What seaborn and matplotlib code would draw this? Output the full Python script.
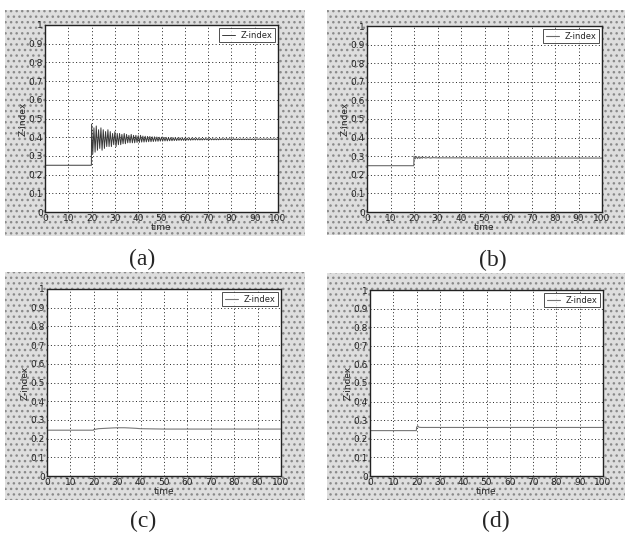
import numpy as np
import pandas as pd
import matplotlib
matplotlib.use("Agg")
import matplotlib.pyplot as plt
from matplotlib.patches import Rectangle
import seaborn as sns

# ---------------- data ----------------
time_pre = [0, 5, 10, 15, 19.9]
val_pre_a = [0.25, 0.25, 0.25, 0.25, 0.25]

time_a = list(np.arange(20.0, 100.01, 0.5))
val_a = [
    0.47, 0.31, 0.45, 0.32, 0.46, 0.33, 0.44, 0.34, 0.45, 0.33,
    0.44, 0.34, 0.43, 0.35, 0.44, 0.35, 0.43, 0.35, 0.42, 0.36,
    0.43, 0.35, 0.42, 0.36, 0.42, 0.36, 0.415, 0.365, 0.42, 0.365,
    0.415, 0.37, 0.41, 0.37, 0.415, 0.37, 0.41, 0.37, 0.41, 0.372,
    0.408, 0.372, 0.41, 0.374, 0.406, 0.374, 0.405, 0.375, 0.404, 0.376,
    0.404, 0.376, 0.402, 0.377, 0.402, 0.378, 0.401, 0.378, 0.400, 0.379,
    0.400, 0.379, 0.399, 0.380, 0.399, 0.380, 0.398, 0.381, 0.398, 0.381,
    0.397, 0.382, 0.397, 0.382, 0.396, 0.383, 0.396, 0.383, 0.395, 0.383,
    0.395, 0.384, 0.395, 0.384, 0.394, 0.384, 0.394, 0.385, 0.394, 0.385,
    0.394, 0.385, 0.393, 0.385, 0.393, 0.385, 0.393, 0.386, 0.393, 0.386,
    0.393, 0.386, 0.393, 0.386, 0.392, 0.386, 0.392, 0.386, 0.392, 0.386,
    0.392, 0.387, 0.392, 0.387, 0.392, 0.387, 0.392, 0.387, 0.392, 0.387,
    0.392, 0.387, 0.392, 0.387, 0.391, 0.387, 0.391, 0.387, 0.391, 0.387,
    0.391, 0.387, 0.391, 0.387, 0.391, 0.387, 0.391, 0.387, 0.391, 0.387,
    0.391, 0.388, 0.391, 0.388, 0.391, 0.388, 0.391, 0.388, 0.391, 0.388,
    0.391, 0.388, 0.391, 0.388, 0.391, 0.388, 0.391, 0.388, 0.391, 0.388,
    0.391,
]

time_b = [0, 10, 19.9, 20, 20.5, 21, 21.5, 22, 22.5, 23, 23.5, 24, 25, 26, 27,
          28, 30, 40, 50, 60, 70, 80, 90, 100]
val_b = [0.249, 0.249, 0.249, 0.300, 0.286, 0.298, 0.287, 0.296, 0.288, 0.295,
         0.289, 0.294, 0.290, 0.293, 0.290, 0.292, 0.291, 0.291, 0.290, 0.290,
         0.290, 0.290, 0.290, 0.290]

time_c = [0, 10, 19.9, 20, 22, 25, 28, 30, 33, 35, 38, 40, 45, 50, 60, 70, 80, 90, 100]
val_c = [0.245, 0.245, 0.245, 0.248, 0.253, 0.255, 0.257, 0.258, 0.258, 0.257,
         0.255, 0.253, 0.252, 0.251, 0.251, 0.251, 0.251, 0.251, 0.251]

time_d = [0, 10, 19.9, 20, 20.5, 21, 22, 25, 30, 40, 50, 60, 70, 80, 90, 100]
val_d = [0.244, 0.244, 0.244, 0.262, 0.269, 0.262, 0.261, 0.261, 0.261, 0.261,
         0.261, 0.261, 0.261, 0.261, 0.261, 0.261]

x_ticks = [0, 10, 20, 30, 40, 50, 60, 70, 80, 90, 100]
y_ticks = [0, 0.1, 0.2, 0.3, 0.4, 0.5, 0.6, 0.7, 0.8, 0.9, 1]
y_tick_labels = ["0", "0.1", "0.2", "0.3", "0.4", "0.5", "0.6", "0.7", "0.8", "0.9", "1"]
panel_letters = ["(a)", "(b)", "(c)", "(d)"]

# ---------------- plotting ----------------
sns.set_theme(style="white")
plt.rcParams["font.family"] = ["DejaVu Sans"]

W, H = 626, 535
fig = plt.figure(figsize=(W / 100, H / 100), dpi=100)
fig.patch.set_facecolor("white")

def fx(px):
    return px / W

def fy(py):
    return 1 - py / H

# panel backgrounds (scanned grey stipple)
panels_px = [(5, 10, 305, 236), (327, 10, 625, 235), (5, 272, 305, 500), (327, 273, 625, 500)]
for (x0, y0, x1, y1) in panels_px:
    r = Rectangle((fx(x0), fy(y1)), fx(x1) - fx(x0), fy(y0) - fy(y1),
                  transform=fig.transFigure, facecolor="#dedede",
                  edgecolor="#8a8a8a", hatch="...", linewidth=0, zorder=-5)
    fig.patches.append(r)

axes_px = [(45, 25, 278, 212), (367, 26, 602, 212), (47, 289, 281, 476), (370, 290, 603, 476)]

series = [
    (time_pre + time_a, val_pre_a + val_a, "#3a3a3a", 0.7),
    (time_b, val_b, "#6a6a6a", 0.8),
    (time_c, val_c, "#777777", 0.8),
    (time_d, val_d, "#777777", 0.8),
]

label_pos = [(142, 259), (493, 260), (143, 521), (496, 521)]

for i, ((x0, y0, x1, y1), (tt, vv, col, lw)) in enumerate(zip(axes_px, series)):
    ax = fig.add_axes([fx(x0), fy(y1), fx(x1) - fx(x0), fy(y0) - fy(y1)])
    ax.set_facecolor("white")
    df = pd.DataFrame({"time": tt, "Z-index": vv})
    sns.lineplot(data=df, x="time", y="Z-index", ax=ax, color=col, linewidth=lw,
                 label="Z-index", estimator=None, sort=False)
    ax.set_xlim(0, 100)
    ax.set_ylim(0, 1)
    ax.set_xticks(x_ticks)
    ax.set_xticklabels([str(t) for t in x_ticks], fontsize=6.5)
    ax.set_yticks(y_ticks)
    ax.set_yticklabels(y_tick_labels, fontsize=6.5)
    ax.tick_params(axis="both", length=2, pad=1.5, direction="in", colors="#222222")
    ax.grid(True, linestyle=(0, (1, 2.5)), color="#222222", linewidth=0.7)
    for s in ax.spines.values():
        s.set_color("#222222")
        s.set_linewidth(1.0)
    ax.set_xlabel("time", fontsize=6.5, labelpad=0)
    ax.set_ylabel("Z-index", fontsize=6.5, labelpad=1)
    leg = ax.legend(loc="upper right", fontsize=6, frameon=True, fancybox=False,
                    handlelength=1.6, borderpad=0.3, borderaxespad=0.4,
                    handletextpad=0.6)
    leg.get_frame().set_edgecolor("#222222")
    leg.get_frame().set_linewidth(0.7)
    lx, ly = label_pos[i]
    fig.text(fx(lx), fy(ly), panel_letters[i], ha="center", va="center",
             fontsize=17, family=["Liberation Serif", "DejaVu Serif"])

fig.savefig("out.png", dpi=100, facecolor="white")
